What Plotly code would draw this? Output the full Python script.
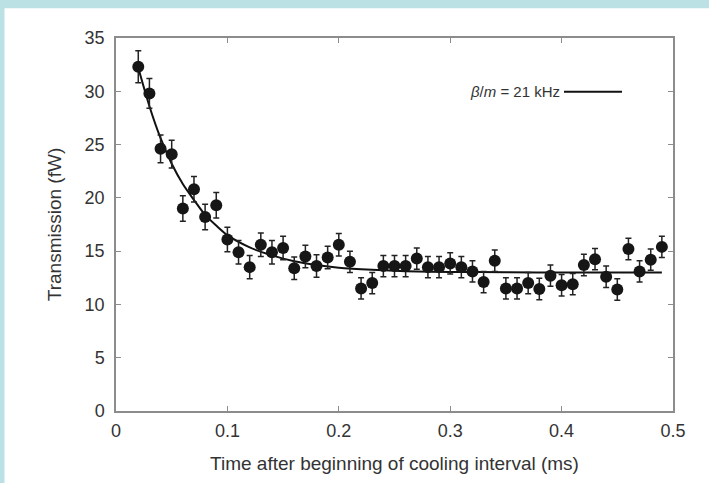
import plotly.graph_objects as go

# Measured data (time in ms, transmission in fW)
time_ms = [0.02, 0.03, 0.04, 0.05, 0.06, 0.07, 0.08, 0.09, 0.10, 0.11,
           0.12, 0.13, 0.14, 0.15, 0.16, 0.17, 0.18, 0.19, 0.20, 0.21,
           0.22, 0.23, 0.24, 0.25, 0.26, 0.27, 0.28, 0.29, 0.30, 0.31,
           0.32, 0.33, 0.34, 0.35, 0.36, 0.37, 0.38, 0.39, 0.40, 0.41,
           0.42, 0.43, 0.44, 0.45, 0.46, 0.47, 0.48, 0.49]
transmission = [32.3, 29.8, 24.6, 24.1, 19.0, 20.8, 18.2, 19.3, 16.1, 14.9,
                13.5, 15.6, 14.9, 15.3, 13.4, 14.5, 13.6, 14.4, 15.6, 14.0,
                11.5, 12.0, 13.6, 13.6, 13.6, 14.3, 13.5, 13.5, 13.85, 13.5,
                13.1, 12.1, 14.1, 11.5, 11.5, 12.0, 11.45, 12.7, 11.8, 11.9,
                13.7, 14.25, 12.6, 11.4, 15.2, 13.1, 14.2, 15.4]
errors = [1.5, 1.4, 1.3, 1.3, 1.2, 1.2, 1.2, 1.2, 1.15, 1.1,
          1.1, 1.1, 1.1, 1.1, 1.05, 1.05, 1.05, 1.05, 1.05, 1.0,
          1.0, 1.0, 1.0, 1.0, 1.0, 1.0, 1.0, 1.0, 1.0, 1.0,
          1.0, 1.0, 1.0, 1.0, 1.0, 1.0, 1.0, 1.0, 1.0, 1.0,
          1.0, 1.0, 1.0, 1.0, 1.0, 1.0, 1.0, 1.0]

# Fit curve, values
fit_time = [0.02, 0.03, 0.04, 0.05, 0.06, 0.07, 0.08, 0.09, 0.10, 0.12,
            0.14, 0.16, 0.18, 0.20, 0.23, 0.26, 0.30, 0.35, 0.40, 0.49]
fit_values = [32.2, 28.6, 25.6, 23.2, 21.3, 19.8, 18.4, 17.4, 16.5, 15.35,
              14.6, 14.05, 13.7, 13.45, 13.25, 13.12, 13.05, 13.02, 13.0, 13.0]

x_ticks = [0, 0.1, 0.2, 0.3, 0.4, 0.5]
x_tick_text = ["0", "0.1", "0.2", "0.3", "0.4", "0.5"]
y_ticks = [0, 5, 10, 15, 20, 25, 30, 35]

legend_label = "<i>β</i>/<i>m</i> = 21 kHz"

fig = go.Figure()
fig.add_trace(go.Scatter(
    x=fit_time, y=fit_values, mode="lines",
    line=dict(color="#111111", width=2, shape="spline", smoothing=0.8),
    showlegend=False, hoverinfo="skip"))
fig.add_trace(go.Scatter(
    x=time_ms, y=transmission, mode="markers",
    marker=dict(color="#161616", size=12),
    error_y=dict(type="data", array=errors, visible=True,
                 color="#222222", thickness=1.5, width=3),
    showlegend=False))

W, H = 709, 483
L, R, T, B = 116, 36, 38, 70
pw, ph = W - L - R, H - T - B

def px(xp):
    return (xp - L) / pw

def py(yp):
    return (H - B - yp) / ph

band = "#bce1e5"
shapes = [
    dict(type="rect", xref="paper", yref="paper", x0=px(-5), x1=px(W + 5),
         y0=py(8), y1=py(-5), fillcolor=band, line=dict(width=0), layer="below"),
    dict(type="rect", xref="paper", yref="paper", x0=px(-5), x1=px(4.5),
         y0=py(H + 5), y1=py(-5), fillcolor=band, line=dict(width=0), layer="below"),
    dict(type="line", xref="paper", yref="paper", x0=px(564), x1=px(622),
         y0=py(92), y1=py(92), line=dict(color="#111111", width=2)),
]

font_family = "Liberation Sans, Arial, Helvetica"
axis_common = dict(showline=True, linecolor="#8c8c8c", linewidth=1.5,
                   mirror="ticks", ticks="inside", ticklen=5, tickwidth=1,
                   tickcolor="#8c8c8c", showgrid=False, zeroline=False,
                   tickfont=dict(family=font_family, size=18, color="#333333"))

fig.update_layout(
    width=W, height=H,
    margin=dict(l=L, r=R, t=T, b=B),
    paper_bgcolor="white", plot_bgcolor="white",
    shapes=shapes,
    xaxis=dict(range=[0, 0.5], tickvals=x_ticks, ticktext=x_tick_text,
               ticklabelstandoff=3,
               title=dict(text="Time after beginning of cooling interval (ms)",
                          font=dict(family=font_family, size=19, color="#333333"),
                          standoff=16),
               **axis_common),
    yaxis=dict(range=[0, 35], tickvals=y_ticks, ticklabelstandoff=6,
               title=dict(text="Transmission (fW)",
                          font=dict(family=font_family, size=19, color="#333333"),
                          standoff=18),
               **axis_common),
    annotations=[dict(xref="paper", yref="paper", x=px(562), y=py(92),
                      xanchor="right", yanchor="middle", showarrow=False,
                      text=legend_label,
                      font=dict(family=font_family, size=15, color="#333333"))],
)

fig.write_html(
    "out.html",
    config={"displayModeBar": False},
    post_script="document.body.style.margin='0';document.body.style.overflow='hidden';",
)
